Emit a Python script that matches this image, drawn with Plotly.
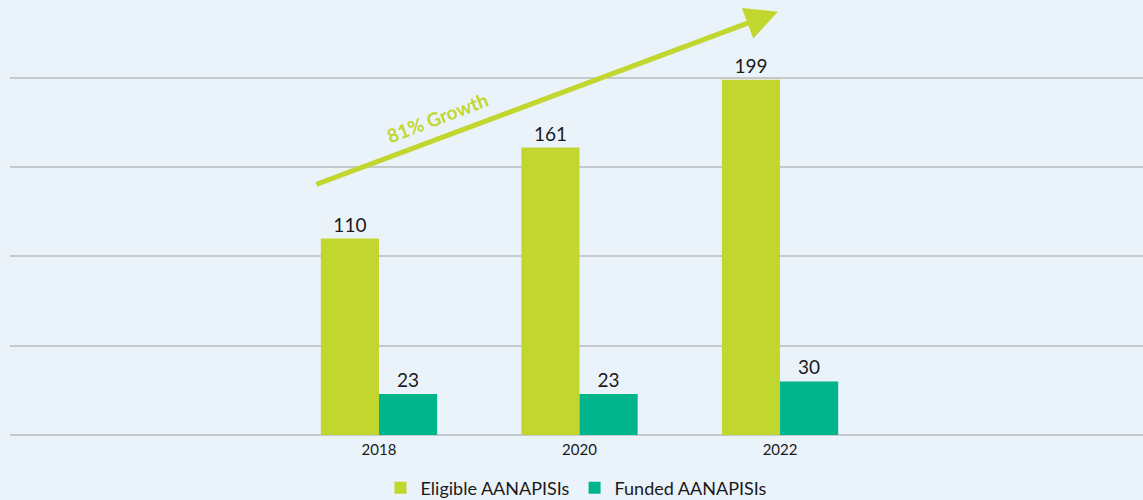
import plotly.graph_objects as go

years = ["2018", "2020", "2022"]
eligible = [110, 161, 199]
funded = [23, 23, 30]
growth_label = "81% Growth"

xpos = list(range(len(years)))

fig = go.Figure()
fig.add_trace(go.Bar(
    x=xpos, y=eligible, name="Eligible AANAPISIs",
    marker=dict(color="#C1D72F", line=dict(width=0)),
    text=[str(v) for v in eligible], textposition="outside",
    textfont=dict(size=19, color="#1a1a1a"), cliponaxis=False,
))
fig.add_trace(go.Bar(
    x=xpos, y=funded, name="Funded AANAPISIs",
    marker=dict(color="#00B48C", line=dict(width=0)),
    text=[str(v) for v in funded], textposition="outside",
    textfont=dict(size=19, color="#1a1a1a"), cliponaxis=False,
))

# growth arrow
fig.add_annotation(
    x=1.99, y=237, ax=-0.32, ay=140,
    xref="x", yref="y", axref="x", ayref="y",
    showarrow=True, arrowhead=2, arrowsize=1.3, arrowwidth=5,
    arrowcolor="#C1D72F", text="",
)
fig.add_annotation(
    x=0.29, y=178, xref="x", yref="y", text="<b>" + growth_label + "</b>",
    showarrow=False, textangle=-21,
    font=dict(size=19, color="#C1D72F"),
)

fig.update_layout(
    width=1143, height=500,
    margin=dict(l=10, r=0, t=0, b=65),
    paper_bgcolor="#EBF3FA", plot_bgcolor="#EBF3FA",
    font=dict(family="Lato, sans-serif", color="#1a1a1a"),
    barmode="group", bargap=0.42, bargroupgap=0,
    showlegend=True,
    legend=dict(orientation="h", x=0.5, xanchor="center",
                yref="container", y=0.024, yanchor="middle",
                font=dict(size=18, color="#1a1a1a"), itemwidth=30,
                bgcolor="rgba(0,0,0,0)"),
)
fig.update_xaxes(
    range=[-1.84, 3.81], tickvals=xpos, ticktext=years,
    tickfont=dict(size=15, color="#1a1a1a"), showgrid=False, zeroline=False,
    showline=False, ticks="", ticklabelstandoff=4,
)
fig.update_yaxes(
    range=[0, 243.6], tickvals=[0, 50, 100, 150, 200], showticklabels=False,
    showgrid=True, gridcolor="#C6C9CC", gridwidth=1.5, zeroline=True,
    zerolinecolor="#C6C9CC", zerolinewidth=1.5, showline=False,
)

fig.write_html(
    "out.html",
    config={"displayModeBar": False},
    post_script="document.body.style.margin='0px';document.body.style.overflow='hidden';document.body.style.background='#EBF3FA';",
)
